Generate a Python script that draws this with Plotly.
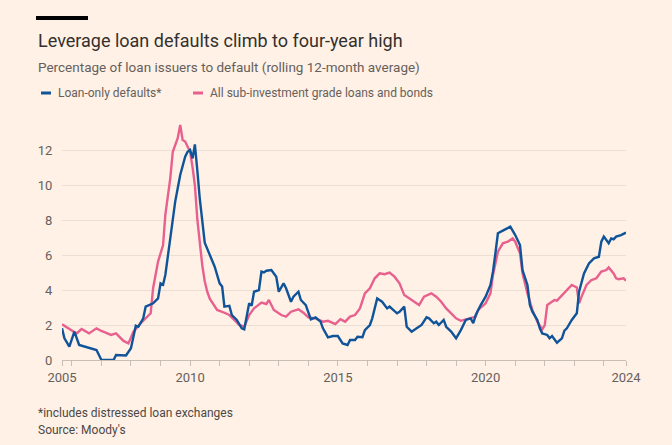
import plotly.graph_objects as go

# ---------------- data ----------------
loan_dates = [
    "2005-09", "2005-10", "2005-12", "2006-02", "2006-04", "2006-11", "2007-01", "2007-06",
    "2007-07", "2007-11", "2008-01", "2008-03", "2008-04", "2008-06", "2008-07", "2008-10",
    "2008-12", "2009-01", "2009-02", "2009-03", "2009-05", "2009-07", "2009-09", "2009-11",
    "2009-12", "2010-01", "2010-02", "2010-03", "2010-04", "2010-05", "2010-07", "2010-11",
    "2011-01", "2011-02", "2011-03", "2011-05", "2011-06", "2011-08", "2011-10", "2011-11",
    "2012-01", "2012-02", "2012-03", "2012-05", "2012-06", "2012-07", "2012-08", "2012-10",
    "2012-12", "2013-01", "2013-03", "2013-04", "2013-06", "2013-07", "2013-09", "2013-10",
    "2013-12", "2014-02", "2014-04", "2014-06", "2014-07", "2014-09", "2014-11", "2015-01",
    "2015-03", "2015-05", "2015-06", "2015-08", "2015-09", "2015-11", "2015-12", "2016-02",
    "2016-03", "2016-05", "2016-07", "2016-09", "2016-10", "2016-12", "2017-01", "2017-02",
    "2017-04", "2017-05", "2017-07", "2017-09", "2017-11", "2018-01", "2018-02", "2018-04",
    "2018-05", "2018-06", "2018-08", "2018-09", "2018-11", "2019-01", "2019-03", "2019-05",
    "2019-07", "2019-08", "2019-09", "2019-11", "2020-01", "2020-03", "2020-04", "2020-05",
    "2020-06", "2020-08", "2020-10", "2020-11", "2021-01", "2021-03", "2021-04", "2021-06",
    "2021-07", "2021-08", "2021-10", "2021-11", "2021-12", "2022-02", "2022-03", "2022-04",
    "2022-06", "2022-08", "2022-09", "2022-10", "2022-12", "2023-02", "2023-03", "2023-05",
    "2023-07", "2023-09", "2023-11", "2023-12", "2024-01", "2024-03", "2024-04", "2024-05",
    "2024-06", "2024-08", "2024-10",
]
loan_only = [
    1.81, 1.24, 0.76, 1.62, 0.86, 0.57, 0.0, 0.0,
    0.29, 0.26, 0.67, 1.96, 1.9, 2.38, 3.05, 3.24,
    3.52, 4.38, 4.3, 4.86, 6.95, 9.05, 10.57, 11.62,
    11.9, 12.0, 11.52, 12.32, 10.8, 9.2, 6.7, 5.33,
    4.38, 4.2, 3.05, 3.1, 2.57, 2.29, 1.81, 1.75,
    3.24, 3.1, 3.9, 4.0, 5.05, 5.0, 5.1, 5.14,
    4.76, 3.9, 4.38, 4.1, 3.33, 3.62, 3.9, 3.43,
    3.14, 2.32, 2.43, 2.19, 1.81, 1.29, 1.37, 1.37,
    0.95, 0.86, 1.14, 1.14, 1.33, 1.3, 1.71, 2.0,
    2.38, 3.52, 3.33, 2.95, 3.05, 2.76, 2.67, 2.76,
    3.05, 1.9, 1.62, 1.81, 2.0, 2.44, 2.38, 2.1,
    2.19, 2.0, 2.29, 1.9, 1.62, 1.24, 1.71, 2.29,
    2.38, 2.1, 2.57, 3.14, 3.62, 4.29, 5.05, 6.1,
    7.24, 7.39, 7.52, 7.62, 7.14, 6.57, 5.14, 4.29,
    3.14, 2.76, 2.29, 1.81, 1.52, 1.43, 1.24, 1.37,
    0.99, 1.24, 1.68, 1.81, 2.29, 2.67, 3.9, 4.95,
    5.52, 5.81, 5.9, 6.76, 7.05, 6.67, 6.95, 6.9,
    7.05, 7.14, 7.28,
]

all_dates = [
    "2005-09", "2005-12", "2006-03", "2006-05", "2006-08", "2006-11", "2007-01", "2007-05",
    "2007-07", "2007-10", "2007-12", "2008-02", "2008-05", "2008-09", "2008-10", "2008-12",
    "2009-02", "2009-03", "2009-05", "2009-06", "2009-08", "2009-09", "2009-10", "2009-11",
    "2010-01", "2010-02", "2010-03", "2010-04", "2010-05", "2010-06", "2010-07", "2010-08",
    "2010-09", "2010-11", "2010-12", "2011-03", "2011-05", "2011-07", "2011-09", "2011-11",
    "2012-01", "2012-03", "2012-06", "2012-08", "2012-09", "2012-11", "2013-02", "2013-04",
    "2013-06", "2013-09", "2013-11", "2014-01", "2014-04", "2014-07", "2014-09", "2014-12",
    "2015-02", "2015-04", "2015-06", "2015-08", "2015-10", "2015-12", "2016-02", "2016-04",
    "2016-06", "2016-08", "2016-10", "2016-12", "2017-02", "2017-04", "2017-06", "2017-08",
    "2017-10", "2017-12", "2018-03", "2018-05", "2018-07", "2018-09", "2018-11", "2019-01",
    "2019-03", "2019-05", "2019-07", "2019-09", "2019-10", "2019-12", "2020-01", "2020-03",
    "2020-04", "2020-06", "2020-08", "2020-10", "2020-12", "2021-01", "2021-03", "2021-04",
    "2021-06", "2021-08", "2021-10", "2021-12", "2022-01", "2022-02", "2022-04", "2022-05",
    "2022-06", "2022-08", "2022-09", "2022-10", "2022-12", "2023-02", "2023-03", "2023-04",
    "2023-06", "2023-08", "2023-10", "2023-12", "2024-02", "2024-03", "2024-05", "2024-06",
    "2024-07", "2024-09", "2024-10",
]
all_sub_ig = [
    2.04, 1.8, 1.52, 1.77, 1.52, 1.81, 1.66, 1.43,
    1.52, 1.09, 0.95, 1.62, 2.1, 2.67, 4.1, 5.62,
    6.57, 8.29, 10.38, 11.9, 12.67, 13.43, 12.57, 12.48,
    11.9, 11.0, 10.0, 8.0, 6.5, 5.4, 4.5, 3.9,
    3.5, 3.1, 2.86, 2.7, 2.57, 2.29, 2.0, 1.9,
    2.57, 2.95, 3.28, 3.2, 3.43, 2.86, 2.57, 2.48,
    2.76, 2.9, 2.7, 2.43, 2.38, 2.19, 2.24, 2.05,
    2.33, 2.19, 2.48, 2.57, 2.95, 3.81, 4.1, 4.67,
    4.95, 4.9, 5.0, 4.76, 4.38, 3.71, 3.52, 3.33,
    3.14, 3.62, 3.81, 3.62, 3.33, 2.95, 2.67, 2.38,
    2.24, 2.33, 2.43, 2.48, 2.86, 3.14, 3.24, 3.81,
    4.86, 6.19, 6.67, 6.76, 6.95, 6.76, 6.1, 4.95,
    3.81, 2.86, 2.19, 1.75, 2.0, 3.14, 3.33, 3.43,
    3.39, 3.71, 3.81, 4.0, 4.29, 4.14, 3.24, 3.62,
    4.29, 4.57, 4.67, 5.05, 5.14, 5.29, 4.95, 4.67,
    4.62, 4.67, 4.53,
]

series_names = ["Loan-only defaults*", "All sub-investment grade loans and bonds"]
x_tick_vals = ["2005-09-01", "2010-01-01", "2015-01-01", "2020-01-01", "2024-10-01"]
x_tick_text = ["2005", "2010", "2015", "2020", "2024"]
y_tick_vals = [0, 2, 4, 6, 8, 10, 12]

title = "Leverage loan defaults climb to four-year high"
subtitle = "Percentage of loan issuers to default (rolling 12-month average)"
footnote = "*includes distressed loan exchanges"
source = "Source: Moody's"

# ---------------- styling ----------------
BG = "#FFF1E5"
BLUE = "#0F5499"
PINK = "#E8608E"
TEXT = "#33302E"
MUTED = "#66605C"
NOTE = "#4D4845"
GRID = "#EBDFD4"
AXIS = "#C9BEB4"
FONT = "Roboto"

W, H = 672, 445
L, R, T, B = 62, 46, 115, 85
PW, PH = W - L - R, H - T - B


def px(x):
    return (x - L) / PW


def py(y):
    return (H - B - y) / PH


fig = go.Figure()
fig.add_trace(go.Scatter(x=all_dates, y=all_sub_ig, mode="lines", name=series_names[1],
                         line=dict(color=PINK, width=2.4), hoverinfo="skip"))
fig.add_trace(go.Scatter(x=loan_dates, y=loan_only, mode="lines", name=series_names[0],
                         line=dict(color=BLUE, width=2.4), hoverinfo="skip"))

annotations = [
    dict(text=title, x=px(36), y=py(40), xanchor="left", yanchor="middle",
         font=dict(size=18, color=TEXT, family=FONT)),
    dict(text=subtitle, x=px(36), y=py(67), xanchor="left", yanchor="middle",
         font=dict(size=13.5, color=MUTED, family=FONT)),
    dict(text=series_names[0], x=px(56), y=py(93), xanchor="left", yanchor="middle",
         font=dict(size=12, color=MUTED, family=FONT)),
    dict(text=series_names[1], x=px(208), y=py(93), xanchor="left", yanchor="middle",
         font=dict(size=12, color=MUTED, family=FONT)),
    dict(text=footnote, x=px(36), y=py(413), xanchor="left", yanchor="middle",
         font=dict(size=12, color=NOTE, family=FONT)),
    dict(text=source, x=px(36), y=py(430), xanchor="left", yanchor="middle",
         font=dict(size=12, color=NOTE, family=FONT)),
]
for a in annotations:
    a.update(xref="paper", yref="paper", showarrow=False)

shapes = [
    dict(type="rect", xref="paper", yref="paper", x0=px(36), x1=px(88), y0=py(20), y1=py(16),
         fillcolor="#000000", line=dict(width=0)),
    dict(type="line", xref="paper", yref="paper", x0=px(41), x1=px(51), y0=py(93), y1=py(93),
         line=dict(color=BLUE, width=3)),
    dict(type="line", xref="paper", yref="paper", x0=px(193), x1=px(203), y0=py(93), y1=py(93),
         line=dict(color=PINK, width=3)),
]

fig.update_layout(
    width=W, height=H,
    margin=dict(l=L, r=R, t=T, b=B, pad=0),
    paper_bgcolor=BG, plot_bgcolor=BG,
    showlegend=False,
    font=dict(family=FONT, color=MUTED, size=13),
    annotations=annotations,
    shapes=shapes,
    xaxis=dict(
        type="date", range=["2005-09-01", "2024-10-01"],
        tickmode="array", tickvals=x_tick_vals, ticktext=x_tick_text,
        ticks="outside", ticklen=5, tickcolor=AXIS, tickwidth=1,
        showline=True, linecolor=AXIS, linewidth=1,
        showgrid=False, zeroline=False,
        tickfont=dict(size=13, color=MUTED, family=FONT),
        minor=dict(tick0="2006-01-01", dtick="M12", ticks="outside", ticklen=5,
                   tickcolor=AXIS, showgrid=False),
    ),
    yaxis=dict(
        range=[0, 14], tickmode="array", tickvals=y_tick_vals,
        showgrid=True, gridcolor=GRID, gridwidth=1, zeroline=False,
        ticks="outside", ticklen=6, tickcolor="rgba(0,0,0,0)",
        tickfont=dict(size=13, color=MUTED, family=FONT),
    ),
)

fig.write_html(
    "out.html",
    config={"displayModeBar": False, "staticPlot": True},
    post_script="document.body.style.margin='0';document.body.style.background='" + BG + "';",
)
